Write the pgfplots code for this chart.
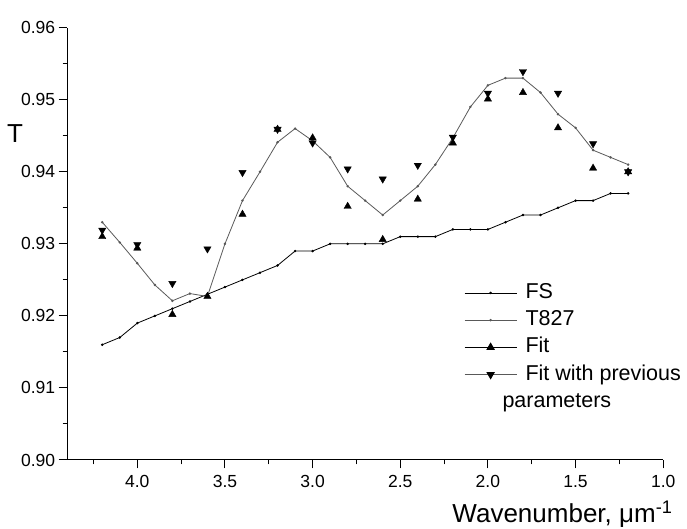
\documentclass[border=0pt]{standalone}
\usepackage{fontspec}
\setmainfont{Liberation Sans}
\usepackage{pgfplots}
\pgfplotsset{compat=1.18}
\usepackage{pgfplotstable}

\pgfplotstableread{
x y
4.2 0.916
4.1 0.917
4.0 0.919
3.9 0.920
3.8 0.921
3.7 0.922
3.6 0.923
3.5 0.924
3.4 0.925
3.3 0.926
3.2 0.927
3.1 0.929
3.0 0.929
2.9 0.930
2.8 0.930
2.7 0.930
2.6 0.930
2.5 0.931
2.4 0.931
2.3 0.931
2.2 0.932
2.1 0.932
2.0 0.932
1.9 0.933
1.8 0.934
1.7 0.934
1.6 0.935
1.5 0.936
1.4 0.936
1.3 0.937
1.2 0.937
}\fsdata

\pgfplotstableread{
x y
4.2 0.9330
4.1 0.9302
4.0 0.9273
3.9 0.9243
3.8 0.9221
3.7 0.9231
3.6 0.9227
3.5 0.9300
3.4 0.9360
3.3 0.9400
3.2 0.9441
3.1 0.9460
3.0 0.9443
2.9 0.9420
2.8 0.9380
2.7 0.9360
2.6 0.9340
2.5 0.9360
2.4 0.9380
2.3 0.9410
2.2 0.9447
2.1 0.9490
2.0 0.9520
1.9 0.9530
1.8 0.9530
1.7 0.9510
1.6 0.9480
1.5 0.9461
1.4 0.9430
1.3 0.9420
1.2 0.9410
}\tdata

\pgfplotstableread{
x y
4.2 0.9310
4.0 0.9294
3.8 0.9202
3.6 0.9227
3.4 0.9341
3.2 0.9459
3.0 0.9447
2.8 0.9352
2.6 0.9306
2.4 0.9362
2.2 0.9440
2.0 0.9501
1.8 0.9510
1.6 0.9461
1.4 0.9405
1.2 0.9400
}\fitdata

\pgfplotstableread{
x y
4.2 0.9319
4.0 0.9299
3.8 0.9245
3.6 0.9293
3.4 0.9399
3.2 0.9459
3.0 0.9440
2.8 0.9404
2.6 0.9390
2.4 0.9409
2.2 0.9448
2.0 0.9509
1.8 0.9539
1.6 0.9509
1.4 0.9439
1.2 0.9400
}\prevdata

\begin{document}
\begin{tikzpicture}
\begin{axis}[
  scale only axis, width=596pt, height=432.3pt,
  xmin=1.0, xmax=4.4, ymin=0.90, ymax=0.96, x dir=reverse,
  axis lines=left, axis line style={-, line width=1pt},
  tick align=outside, major tick length=8.5pt, minor tick length=4.5pt,
  every tick/.style={black, line width=1pt},
  xtick={1.0,1.5,2.0,2.5,3.0,3.5,4.0},
  minor xtick={1.25,1.75,2.25,2.75,3.25,3.75,4.25},
  ytick={0.90,0.91,0.92,0.93,0.94,0.95,0.96},
  minor ytick={0.905,0.915,0.925,0.935,0.945,0.955},
  /pgf/number format/assume math mode=true,
  tick label style={font=\fontsize{17.5}{20}\selectfont},
  xticklabel style={yshift=-3pt, /pgf/number format/.cd, fixed, fixed zerofill, precision=1},
  yticklabel style={/pgf/number format/.cd, fixed, fixed zerofill, precision=2},
  xlabel={Wavenumber, μm\textsuperscript{-1}},
  every axis x label/.style={at={(axis description cs:1.0215,-0.145)}, anchor=base east, font=\fontsize{26}{30}\selectfont},
  ylabel={T},
  every axis y label/.style={at={(axis description cs:-0.0876,0.7548)}, anchor=center, font=\fontsize{26}{30}\selectfont},
  legend image code/.code={\draw[mark repeat=2,mark phase=2,#1] plot coordinates {(0pt,0pt) (26pt,0pt) (52pt,0pt)};},
  legend style={at={(axis description cs:0.6658,0.41)}, anchor=north west, draw=none, fill=none,
    inner sep=0pt, row sep=7.2pt, column sep=8.5pt,
    font=\fontsize{21.5}{25}\selectfont,
    nodes={inner sep=0pt, text height=15.5pt, text depth=4.5pt}},
  legend cell align=left,
]
\addplot[black, line width=0.8pt, mark=*, mark size=0.8pt] table[x=x,y=y] {\fsdata};
\addlegendentry{FS}
\addplot[black!65, line width=0.8pt, mark=*, mark size=0.8pt] table[x=x,y=y] {\tdata};
\addlegendentry{T827}
\addplot[black, only marks, mark=triangle*, mark size=4.2pt, forget plot] table[x=x,y=y] {\fitdata};
\addplot[black, only marks, mark=triangle*, mark size=4.2pt, mark options={rotate=180}, forget plot] table[x=x,y=y] {\prevdata};
\addlegendimage{black, line width=0.8pt, mark=triangle*, mark size=4.2pt}
\addlegendentry{Fit}
\addlegendimage{black!65, line width=0.8pt, mark=triangle*, mark size=4.2pt, mark options={rotate=180, black}}
\addlegendentry{Fit with previous}
\addlegendimage{empty legend}
\addlegendentry{\hspace*{-23pt}parameters}
\end{axis}
\pgfresetboundingbox
\path[use as bounding box] (-67.2pt,-69pt) rectangle (619.8pt,460pt);
\end{tikzpicture}
\end{document}
